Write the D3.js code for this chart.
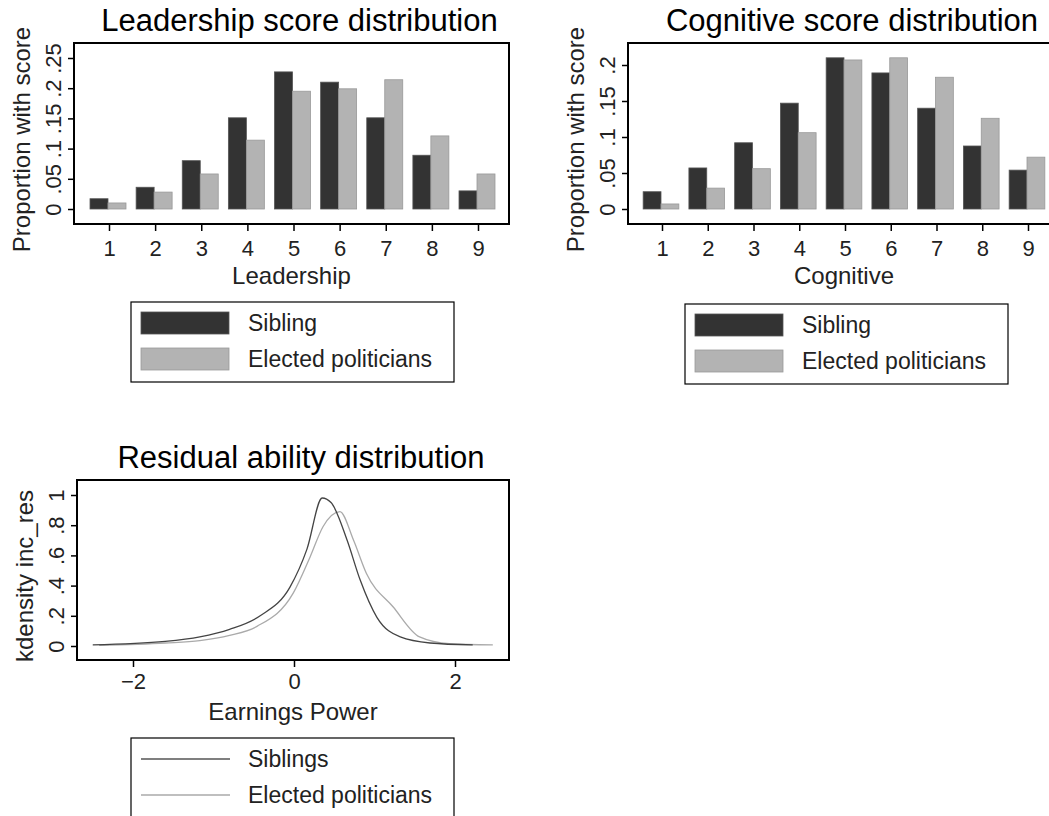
<!DOCTYPE html>
<html><head><meta charset="utf-8">
<script src="https://cdn.jsdelivr.net/npm/d3@7"></script>
<style>body{margin:0;background:#fff}svg{font-family:"Liberation Sans",Arial,sans-serif}svg text{font-family:"Liberation Sans",Arial,sans-serif}</style>
</head><body><svg id="c" width="1049" height="816"></svg>
<script>
const scores = [1,2,3,4,5,6,7,8,9];
const leadSibling = [0.017,0.036,0.08,0.151,0.227,0.21,0.151,0.089,0.03];
const leadElected = [0.01,0.028,0.058,0.114,0.195,0.199,0.214,0.121,0.058];
const cogSibling = [0.024,0.057,0.092,0.147,0.21,0.189,0.14,0.0875,0.054];
const cogElected = [0.007,0.029,0.056,0.106,0.207,0.21,0.183,0.126,0.072];
const leadTicks = [0,0.05,0.1,0.15,0.2,0.25];
const leadTickLabels = ['0','.05','.1','.15','.2','.25'];
const cogTicks = [0,0.05,0.1,0.15,0.2];
const cogTickLabels = ['0','.05','.1','.15','.2'];
const densSibX = [-2.5,-1.6,-1.17,-0.8,-0.42,-0.05,0.16,0.35,0.46,0.66,0.82,1.03,1.32,1.69,2.22];
const densSibY = [0.007,0.03,0.06,0.11,0.2,0.39,0.64,0.98,0.95,0.70,0.44,0.19,0.06,0.02,0.007];
const densEleX = [-2.42,-1.6,-1.17,-0.8,-0.46,-0.01,0.2,0.36,0.57,0.74,0.9,1.23,1.56,1.93,2.47];
const densEleY = [0.005,0.02,0.035,0.07,0.13,0.35,0.59,0.79,0.89,0.70,0.48,0.26,0.06,0.015,0.007];
const densTicks = [0,0.2,0.4,0.6,0.8,1];
const densTickLabels = ['0','.2','.4','.6','.8','1'];
const earnTicks = [-2,0,2];

const svg = d3.select('#c');
const DARK = '#333333', LIGHT = '#b3b3b3';
const TXT = '#222';

function frame(g, x0, y0, x1, y1, title, xlab, ylab) {
  g.append('rect').attr('x', x0).attr('y', y0).attr('width', x1 - x0).attr('height', y1 - y0)
    .attr('fill', 'none').attr('stroke', '#000').attr('stroke-width', 2);
  g.append('text').attr('x', (x0 + x1) / 2 + 8).attr('y', y0 - 12).attr('text-anchor', 'middle')
    .attr('font-size', 31).attr('fill', '#000').text(title);
  g.append('text').attr('x', (x0 + x1) / 2).attr('y', y1 + 60).attr('text-anchor', 'middle')
    .attr('font-size', 24).attr('fill', TXT).text(xlab);
  g.append('text').attr('transform', `translate(${x0 - 44},${(y0 + y1) / 2 + 6}) rotate(-90)`)
    .attr('text-anchor', 'middle').attr('font-size', 24).attr('fill', TXT).text(ylab);
}

function yAxis(g, x0, y, ticks, labels) {
  const ax = g.append('g').attr('transform', `translate(${x0},0)`)
    .call(d3.axisLeft(y).tickValues(ticks).tickFormat((d, i) => labels[i]).tickSize(6));
  ax.select('.domain').remove();
  ax.selectAll('line').attr('stroke-width', 1.5);
  ax.selectAll('text').attr('font-size', 22).attr('fill', TXT)
    .attr('text-anchor', 'middle').attr('dy', 0).attr('x', -13).attr('transform', 'rotate(-90,-13,0)');
}

function barPanel(x0, y0, x1, y1, tx1, tx9, yMax, sib, ele, ticks, labels, title, xlab) {
  const g = svg.append('g');
  const x = d3.scaleLinear().domain([1, 9]).range([tx1, tx9]);
  const y = d3.scaleLinear().domain([0, yMax]).range([209, 58]);
  const bw = (x(2) - x(1)) * 0.39;
  scores.forEach((s, i) => {
    g.append('rect').attr('x', x(s) - bw - 1).attr('y', y(sib[i])).attr('width', bw).attr('height', y(0) - y(sib[i]))
      .attr('fill', DARK).attr('stroke', '#555').attr('stroke-width', 0.8);
    g.append('rect').attr('x', x(s) - 1).attr('y', y(ele[i])).attr('width', bw).attr('height', y(0) - y(ele[i]))
      .attr('fill', LIGHT).attr('stroke', '#999').attr('stroke-width', 0.8);
  });
  frame(g, x0, y0, x1, y1, title, xlab, 'Proportion with score');
  yAxis(g, x0, y, ticks, labels);
  const xa = g.append('g').attr('transform', `translate(0,${y1})`)
    .call(d3.axisBottom(x).tickValues(scores).tickSize(7).tickPadding(9));
  xa.select('.domain').remove();
  xa.selectAll('line').attr('stroke-width', 1.5);
  xa.selectAll('text').attr('font-size', 22).attr('fill', TXT);
  return g;
}

function legend(lx, ly, items, line) {
  const g = svg.append('g');
  g.append('rect').attr('x', lx).attr('y', ly).attr('width', 323).attr('height', 80)
    .attr('fill', '#fff').attr('stroke', '#000').attr('stroke-width', 1.2);
  items.forEach((it, i) => {
    const cy = ly + 21 + i * 36;
    if (line) {
      g.append('line').attr('x1', lx + 10).attr('x2', lx + 99).attr('y1', cy).attr('y2', cy)
        .attr('stroke', it.c).attr('stroke-width', 1.3);
    } else {
      g.append('rect').attr('x', lx + 10).attr('y', cy - 11).attr('width', 88).attr('height', 22)
        .attr('fill', it.c).attr('stroke', it.s).attr('stroke-width', 0.8);
    }
    g.append('text').attr('x', lx + 117).attr('y', cy + 8).attr('font-size', 23).attr('fill', TXT).text(it.t);
  });
}

// Leadership
barPanel(74, 43, 509, 224, 109, 478, 0.25, leadSibling, leadElected, leadTicks, leadTickLabels,
  'Leadership score distribution', 'Leadership');
legend(131, 302, [{t: 'Sibling', c: DARK, s: '#555'}, {t: 'Elected politicians', c: LIGHT, s: '#999'}], false);

// Cognitive
barPanel(628, 43, 1060, 224, 662, 1028, 0.2 * 151 / 144, cogSibling, cogElected, cogTicks, cogTickLabels,
  'Cognitive score distribution', 'Cognitive');
legend(685, 304, [{t: 'Sibling', c: DARK, s: '#555'}, {t: 'Elected politicians', c: LIGHT, s: '#999'}], false);

// Density
(function () {
  const g = svg.append('g');
  const x = d3.scaleLinear().domain([-2, 2]).range([133, 455]);
  const y = d3.scaleLinear().domain([0, 1]).range([646, 495]);
  const line = d3.line().x(d => x(d[0])).y(d => y(d[1])).curve(d3.curveMonotoneX);
  g.append('path').attr('d', line(d3.zip(densEleX, densEleY))).attr('fill', 'none').attr('stroke', '#aaa').attr('stroke-width', 1.3);
  g.append('path').attr('d', line(d3.zip(densSibX, densSibY))).attr('fill', 'none').attr('stroke', '#444').attr('stroke-width', 1.3);
  frame(g, 77, 480, 509, 660, 'Residual ability distribution', 'Earnings Power', 'kdensity inc_res');
  yAxis(g, 77, y, densTicks, densTickLabels);
  const xa = g.append('g').attr('transform', 'translate(0,660)')
    .call(d3.axisBottom(x).tickValues(earnTicks).tickFormat(d3.format('d')).tickSize(7).tickPadding(6));
  xa.select('.domain').remove();
  xa.selectAll('line').attr('stroke-width', 1.5);
  xa.selectAll('text').attr('font-size', 22).attr('fill', TXT);
})();
legend(131, 738, [{t: 'Siblings', c: '#555'}, {t: 'Elected politicians', c: '#aaa'}], true);
</script></body></html>
